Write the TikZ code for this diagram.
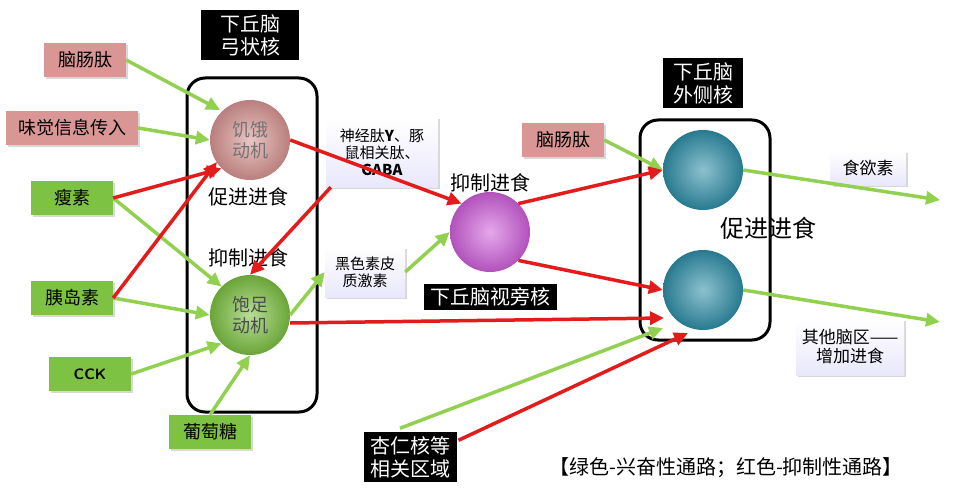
\documentclass[tikz,border=0pt]{standalone}
\usepackage{fontspec}
\newfontfamily\cjk{Noto Sans CJK SC}
\usetikzlibrary{arrows.meta,shadows}
\definecolor{pinkb}{HTML}{D99694}
\definecolor{greenb}{HTML}{7DC242}
\definecolor{lav}{HTML}{E4DDF0}
\definecolor{arrG}{HTML}{92D050}
\definecolor{arrR}{HTML}{E31B1B}
\definecolor{tealb}{HTML}{2F8FA8}
\definecolor{purb}{HTML}{D060DC}
\begin{document}
\begin{tikzpicture}[x=1pt,y=-1pt,font=\cjk,
 box/.style={draw=none,minimum height=34,inner sep=3pt,font=\cjk\fontsize{18}{20}\selectfont,drop shadow={opacity=0.3}},
 pk/.style={box,fill=pinkb},
 gr/.style={box,fill=greenb},
 lv/.style={box,top color=white,bottom color=lav!80!blue!30,align=center,font=\cjk\fontsize{15}{17}\selectfont},
 blk/.style={fill=black,text=white,align=center,font=\cjk\fontsize{20}{23}\selectfont,inner sep=5pt,draw=white,line width=2pt},
 ball/.style={circle,minimum size=80,inner sep=0pt,align=center,font=\cjk\fontsize{18}{21}\selectfont,
   shading=radial,inner color=#1!55!white,outer color=#1!85!black},
 ga/.style={draw=arrG,line width=3.5pt,-{Triangle[length=14pt,width=13pt]}},
 ra/.style={draw=arrR,line width=3.5pt,-{Triangle[length=14pt,width=13pt]}},
 lbl/.style={font=\cjk\fontsize{20}{23}\selectfont}]
\useasboundingbox[fill=white] (0,0) rectangle (956,500);
% frames
\draw[line width=3pt,rounded corners=18] (187,78) rectangle (317,412);
\draw[line width=3pt,rounded corners=18] (640,120) rectangle (770,340);
% boxes
\node[pk,minimum width=82] (ncp1) at (85,60) {脑肠肽};
\node[pk,minimum width=132] (wj) at (72,128) {味觉信息传入};
\node[gr,minimum width=82] (ss) at (72,198) {瘦素};
\node[gr,minimum width=82] (yds) at (72,298) {胰岛素};
\node[gr,minimum width=82,font=\sffamily\bfseries\fontsize{15}{17}\selectfont] (cck) at (90,374) {CCK};
\node[gr,minimum width=82] (ptt) at (210,432) {葡萄糖};
\node[blk,minimum width=100] (arc) at (250,35) {下丘脑\\弓状核};
\node[blk,minimum width=82] (lh) at (703,83) {下丘脑\\外侧核};
\node[blk,minimum width=135,inner sep=5pt] (pvn) at (490,297) {下丘脑视旁核};
\node[blk,minimum width=95] (amy) at (410,457) {杏仁核等\\相关区域};
\node[lv,minimum width=112,minimum height=70] (npy) at (382,152) {神经肽\textbf{Y}、豚\\鼠相关肽、\\\textbf{GABA}};
\node[lv,minimum width=80,minimum height=50] (msh) at (365,272) {黑色素皮\\质激素};
\node[pk,minimum width=82] (ncp2) at (563,140) {脑肠肽};
\node[lv,minimum width=75,minimum height=34,font=\cjk\fontsize{17}{19}\selectfont] (sys) at (868,168) {食欲素};
\node[lv,minimum width=108,minimum height=56,font=\cjk\fontsize{17}{19}\selectfont] (other) at (850,347) {其他脑区——\\增加进食};
% balls
\node[ball=pinkb,text=black!55] (hun) at (250,140) {饥饿\\动机};
\node[ball=greenb,text=black!70] (sat) at (250,315) {饱足\\动机};
\node[ball=purb] (pur) at (490,232) {};
\node[ball=tealb] (t1) at (703,170) {};
\node[ball=tealb] (t2) at (703,290) {};
% labels
\node[lbl] (l1) at (248,197) {促进进食};
\node[lbl] (l2) at (248,258) {抑制进食};
\node[lbl] (l3) at (490,183) {抑制进食};
\node[font=\cjk\fontsize{24}{27}\selectfont] (l4) at (768,228) {促进进食};
\node[font=\cjk\fontsize{20}{23}\selectfont] (leg) at (726,468) {【绿色-兴奋性通路；红色-抑制性通路】};
% endpoints
\coordinate (e1) at (940,200);
\coordinate (e2) at (940,322);
% green arrows
\draw[ga] (ncp1.east) -- (220,110);
\draw[ga] (wj.east) -- (hun.west);
\draw[ga] (ss.east) -- (sat.north west);
\draw[ga] (yds.east) -- (sat.west);
\draw[ga] (cck.east) -- (sat.south west);
\draw[ga] (ptt.north) -- (sat.south);
\draw[ga] (sat.east) -- (msh.west);
\draw[ga] (msh.east) -- (pur.west);
\draw[ga] (ncp2.east) -- (t1.west);
\draw[ga] (t1.east) -- (e1);
\draw[ga] (t2.east) -- (e2);
\draw[ga] (amy.north) ++(-10,-2) -- (663,328);
% red arrows
\draw[ra] (ss.east) -- (hun.south west);
\draw[ra] (yds.east) -- (217,162);
\draw[ra] (hun.east) -- (pur.north west);
\draw[ra] (npy.south west) ++(5,0) -- (sat.north);
\draw[ra] (sat.east) ++(0,8) -- (664,318);
\draw[ra] (pur.north east) -- (t1.west);
\draw[ra] (pur.south east) -- (t2.west);
\draw[ra] (amy.north east) ++(0,10) -- (688,333);
\end{tikzpicture}
\end{document}
